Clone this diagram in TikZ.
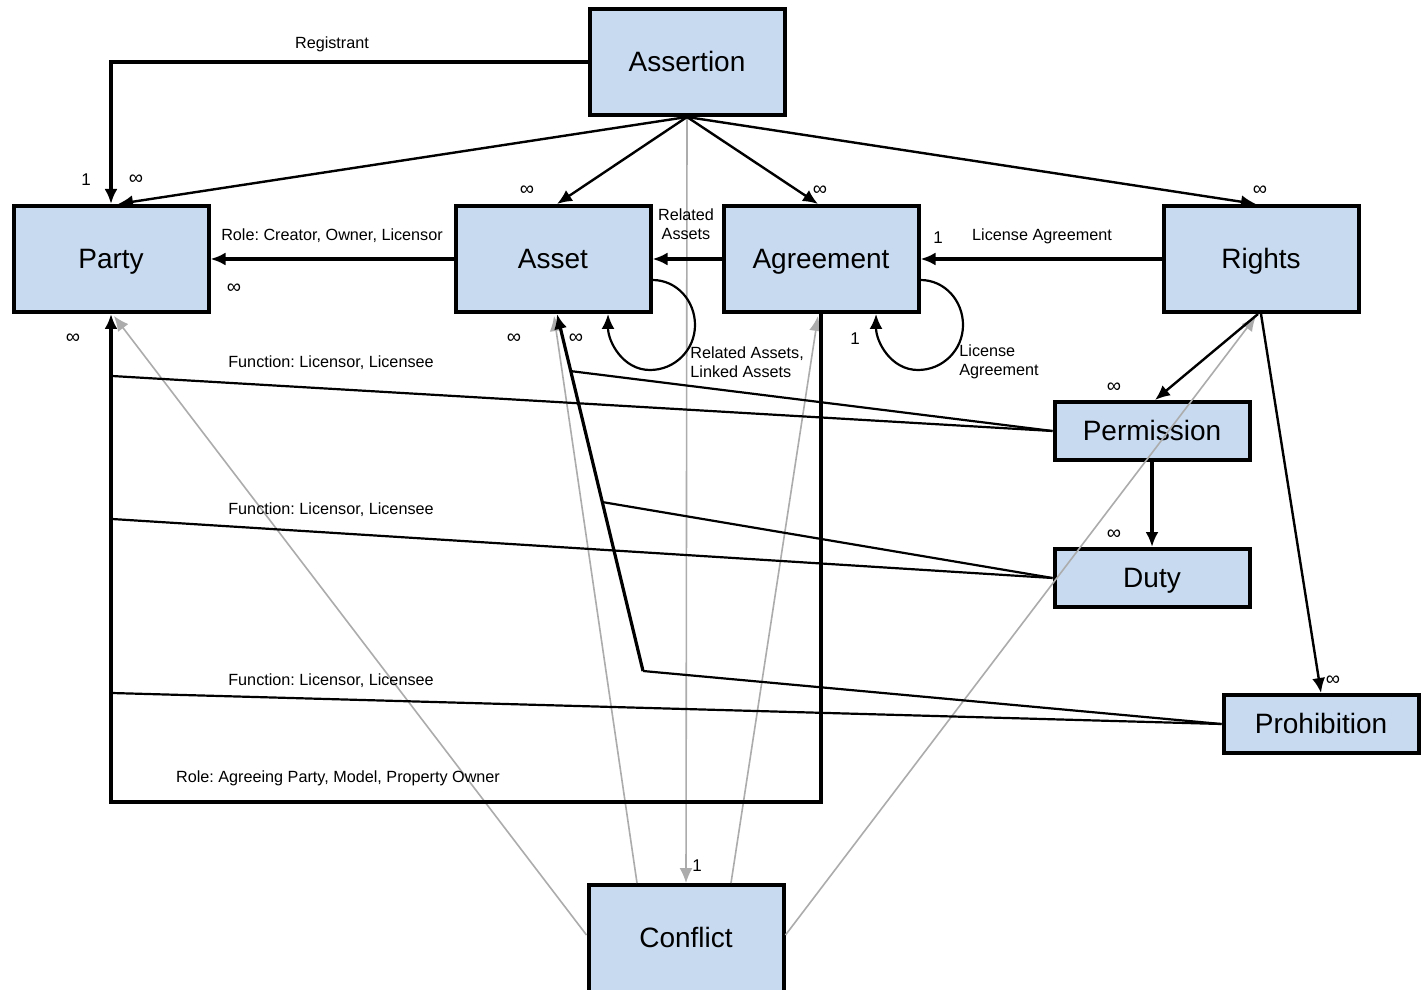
\documentclass[tikz,border=0pt]{standalone}
\usepackage{fontspec}
\setmainfont{Liberation Sans}
\usetikzlibrary{arrows.meta,calc}
\definecolor{boxfill}{RGB}{199,218,240}
\definecolor{graylink}{RGB}{172,172,172}
\frenchspacing
\begin{document}
\begin{tikzpicture}[x=0.5pt,y=-0.5pt,
  entity/.style={draw=black,line width=2pt,fill=boxfill,minimum width=97.5pt,minimum height=53pt,inner sep=0pt,text height=12.5pt,text depth=3pt,font=\fontsize{14}{16}\selectfont},
  smallentity/.style={entity,minimum height=29pt},
  link/.style={line width=1.2pt,-{Latex[length=7.5pt,width=6.5pt]}},
  thicklink/.style={line width=1.6pt,-{Latex[length=7.5pt,width=6.5pt]}},
  plain/.style={line width=1.1pt},
  graylinkstyle/.style={draw=graylink,line width=0.8pt,-{Latex[length=7.5pt,width=6.5pt]}},
  lbl/.style={font=\fontsize{8.1}{9.5}\selectfont,inner sep=0pt},
  mult/.style={font=\fontsize{10}{10}\selectfont,inner sep=0pt},
  one/.style={font=\fontsize{8.5}{9}\selectfont,inner sep=0pt}
]
\useasboundingbox (0,0) rectangle (1422,989);
\clip (0,0) rectangle (1422,989);
\fill[white] (0,0) rectangle (1422,989);

% junction coordinates
\coordinate (kP) at (111,802);
\coordinate (kG) at (821,802);
\coordinate (jPa) at (112,376);
\coordinate (jPb) at (112,519);
\coordinate (jPc) at (112,693);
\coordinate (kA) at (643,671);
\coordinate (jAa) at (570,371);
\coordinate (jAb) at (602,502);

\node[entity,minimum height=0pt,text height=31pt,text depth=32.5pt,anchor=north] (conflict) at (686,883) {Conflict};
\node[entity] (assertion) at (687,62) {Assertion};
\node[entity] (party) at (111,259) {Party};
\node[entity] (asset) at (553,259) {Asset};
\node[entity] (agreement) at (821,259) {Agreement};
\node[entity] (rights) at (1261,259) {Rights};
\node[smallentity] (permission) at (1152,431) {Permission};
\node[smallentity] (duty) at (1152,578) {Duty};
\node[smallentity] (prohibition) at (1321,724) {Prohibition};

% gray links
\draw[graylinkstyle] (assertion.south) -- (conflict.north);
\draw[graylinkstyle] ($(conflict.north west)+(0,52)$) -- ($(party.south)+(3,2)$);
\draw[graylinkstyle] ($(conflict.north)+(-49,0)$) -- ($(asset.south)+(1,2)$);
\draw[graylinkstyle] ($(conflict.north)+(45,0)$) -- ($(agreement.south)+(-3,2)$);
\draw[graylinkstyle] ($(conflict.north east)+(0,52)$) -- ($(rights.south)+(-5,2)$);

% Assertion links
\draw[thicklink] (assertion.west) -| (party.north);
\draw[link] (assertion.south) -- ($(party.north)+(7,0)$);
\draw[link] (assertion.south) -- ($(asset.north)+(4,0)$);
\draw[link] (assertion.south) -- ($(agreement.north)+(-3,0)$);
\draw[link] (assertion.south) -- ($(rights.north)+(-5,0)$);

% horizontal links
\draw[thicklink] (asset.west) -- (party.east);
\draw[thicklink] (agreement.west) -- (asset.east);
\draw[thicklink] (rights.west) -- (agreement.east);

% self loops
\draw[link,line width=1.1pt] ($(asset.east)+(0,21)$) to[out=0,in=90] (695,325) to[out=-90,in=0] (650,370) to[out=180,in=-90] ($(asset.south)+(55,0)$);
\draw[link,line width=1.1pt] ($(agreement.east)+(0,21)$) to[out=0,in=90] (963,325) to[out=-90,in=0] (918,370) to[out=180,in=-90] ($(agreement.south)+(55,0)$);

% Rights to Permission / Prohibition, Permission to Duty
\draw[link] ($(rights.south)+(-3,0)$) -- ($(permission.north)+(3,0)$);
\draw[thicklink] (permission.south) -- (duty.north);
\draw[link] (rights.south) -- (prohibition.north);

% Agreement to Party (role)
\draw[thicklink] (agreement.south) -- (kG) -- (kP) -- (party.south);

% Asset incoming line
\draw[thicklink] (kA) -- ($(asset.south)+(4,0)$);

% function lines
\draw[plain] (permission.west) -- (jPa);
\draw[plain] (permission.west) -- (jAa);
\draw[plain] (duty.west) -- (jPb);
\draw[plain] (duty.west) -- (jAb);
\draw[plain] (prohibition.west) -- (jPc);
\draw[plain] (prohibition.west) -- (kA);

% labels
\node[lbl] at (332,44) {Registrant};
\node[lbl] at (332,236) {Role: Creator, Owner, Licensor};
\node[lbl,align=center] at (686,224) {Related\\Assets};
\node[lbl] at (1042,236) {License Agreement};
\node[lbl,align=left,anchor=west] at (690,362) {Related Assets,\\Linked Assets};
\node[lbl,align=left,anchor=west] at (959,362) {License\\Agreement};
\node[lbl] at (331,363) {Function: Licensor, Licensee};
\node[lbl] at (331,510) {Function: Licensor, Licensee};
\node[lbl] at (331,681) {Function: Licensor, Licensee};
\node[lbl] at (338,778) {Role: Agreeing Party, Model, Property Owner};

% multiplicities
\node[one] at (86,180) {1};
\node[mult] at (136,180) {∞};
\node[mult] at (527,191) {∞};
\node[mult] at (820,191) {∞};
\node[mult] at (1260,191) {∞};
\node[mult] at (234,289) {∞};
\node[mult] at (73,339) {∞};
\node[mult] at (514,339) {∞};
\node[mult] at (576,339) {∞};
\node[one] at (938,238) {1};
\node[one] at (855,339) {1};
\node[mult] at (1114,388) {∞};
\node[mult] at (1114,535) {∞};
\node[mult] at (1333,681) {∞};
\node[one] at (697,866) {1};
\end{tikzpicture}
\end{document}
